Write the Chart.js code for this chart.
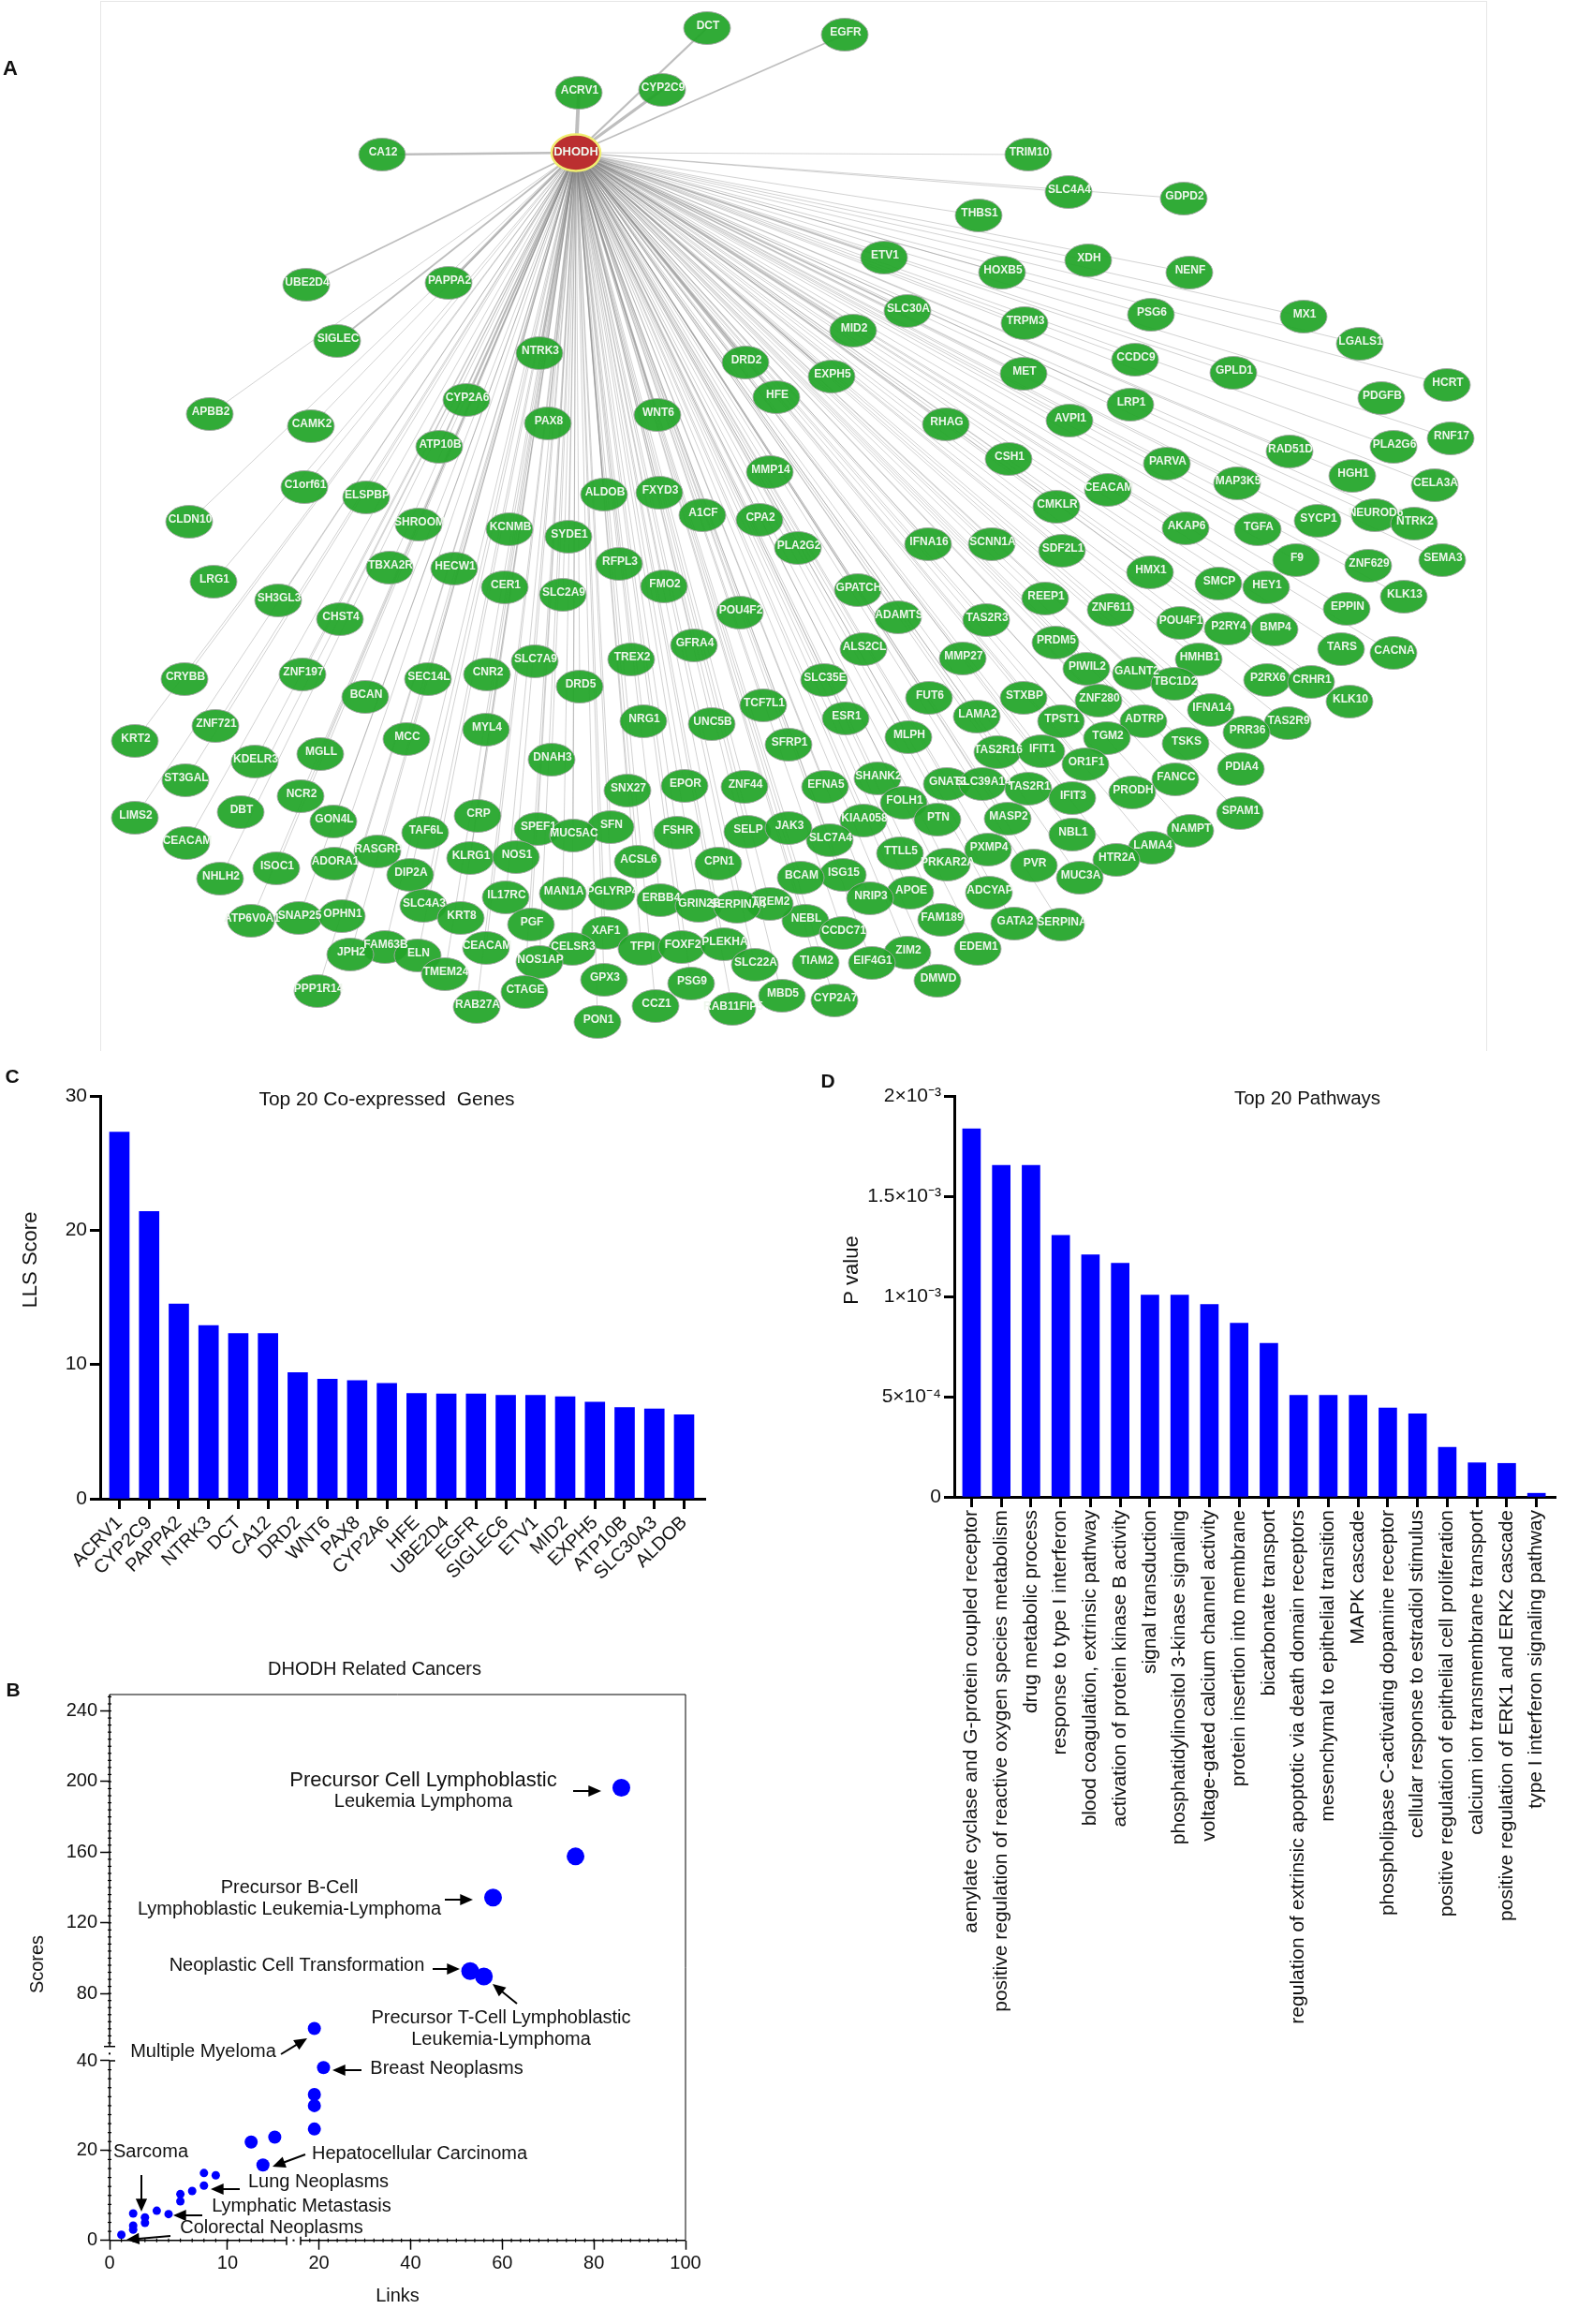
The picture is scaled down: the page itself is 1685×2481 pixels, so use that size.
<!DOCTYPE html>
<html>
<head>
<meta charset="utf-8">
<title>DHODH</title>
<script src="https://cdn.jsdelivr.net/npm/chart.js@4/dist/chart.umd.js"></script>
<style>
body { margin: 0; background: #fff; }
canvas { position: absolute; }
#frame { position: absolute; left: 107px; top: 1px; width: 1479px; height: 1120px; border: 1px solid #e6e6e6; border-bottom: 0; }
</style>
</head>
<body>
<div id="frame"></div>
<canvas id="net"></canvas>
<canvas id="genes"></canvas>
<canvas id="cancers"></canvas>
<canvas id="pathways"></canvas>
<script>
const hubName = 'DHODH';
const hubX = [615];
const hubY = [163];
const netNames = ['DCT','ACRV1','CYP2C9','CA12','UBE2D4','PAPPA2','SIGLEC','NTRK3','DRD2','HFE','CYP2A6','APBB2','CAMK2','PAX8','WNT6','ATP10B','MMP14','C1orf61','ELSPBP','ALDOB','FXYD3','A1CF','CPA2','CLDN10','SHROOM','KCNMB','SYDE1',
  'EGFR','TRIM10','SLC4A4','GDPD2','THBS1','ETV1','HOXB5','XDH','NENF','MX1','PSG6','SLC30A','MID2','TRPM3','LGALS1','CCDC9','GPLD1','MET','EXPH5','HCRT','PDGFB','LRP1','AVPI1','RHAG','RNF17','PLA2G6','RAD51D','PARVA','CSH1','HGH1','CELA3A','MAP3K5','CEACAM','CMKLR','SYCP1','NEUROD6','NTRK2','AKAP6','TGFA','F9','ZNF629','SEMA3','PLA2G2',
  'IFNA16','SCNN1A','SDF2L1','HMX1','SMCP','HEY1','KLK13','EPPIN','GPATCH','REEP1','ZNF611','ADAMTS','TAS2R3','POU4F1','P2RY4','BMP4','TARS','CACNA','ALS2CL','PRDM5','MMP27','HMHB1','PIWIL2','GALNT2','TBC1D2','P2RX6','CRHR1','KLK10','SLC35E','FUT6','STXBP','ZNF280','IFNA14','ESR1','LAMA2','TPST1','ADTRP','TAS2R9','PRR36','TGM2','MLPH','TSKS','TAS2R16','IFIT1','OR1F1','PDIA4','SHANK2','EFNA5','GNAT3','SLC39A14','TAS2R1','PRODH','FANCC','IFIT3','FOLH1','SPAM1','PTN','MASP2','KIAA058','NAMPT','NBL1','SLC7A4','LAMA4','TTLL5','PXMP4','PVR','PRKAR2A','HTR2A','ISG15','MUC3A','BCAM','APOE','ADCYAP','NRIP3','FAM189','NEBL','GATA2','SERPINA','CCDC71','EDEM1','ZIM2','TIAM2','EIF4G1','DMWD','CYP2A7','MBD5',
  'LRG1','TBXA2R','HECW1','CER1','SLC2A9','RFPL3','FMO2','SH3GL3','CHST4','POU4F2','GFRA4','SLC7A9','TREX2','CNR2','ZNF197','SEC14L','CRYBB','DRD5','TCF7L1','BCAN','NRG1','UNC5B','ZNF721','MYL4','MCC','KRT2','SFRP1','MGLL','DNAH3','KDELR3','ST3GAL','SNX27','EPOR','ZNF44','NCR2','CRP','DBT','LIMS2','GON4L','SPEF1','SFN','TAF6L','FSHR','SELP','JAK3','MUC5AC','CEACAM','RASGRP','KLRG1','NOS1','ACSL6','CPN1','ADORA1','ISOC1','DIP2A','NHLH2','IL17RC','MAN1A','PGLYRP4','ERBB4','SLC4A3','GRIN2B','TREM2','SERPINA4','KRT8','ATP6V0A1','SNAP25','OPHN1','PGF','XAF1','CEACAM','FAM63B','JPH2','ELN','CELSR3','TFPI','FOXF2','PLEKHA','NOS1AP','SLC22A','TMEM24','GPX3','PSG9','CTAGE','PPP1R14','RAB27A','CCZ1','RAB11FIP5','PON1'];
const netX = [755,618,707,408,327,479,360,576,796,829,498,224,332,585,702,469,822,325,391,645,704,750,811,202,447,544,607,
  902,1098,1141,1264,1045,944,1070,1162,1270,1392,1229,969,911,1094,1452,1212,1317,1093,888,1545,1475,1207,1142,1010,1549,1488,1377,1246,1077,1444,1532,1321,1183,1128,1407,1468,1510,1266,1343,1384,1461,1540,852,
  991,1059,1134,1228,1301,1352,1499,1438,916,1116,1186,959,1053,1260,1311,1361,1432,1488,922,1127,1028,1280,1160,1213,1254,1353,1400,1441,880,992,1093,1173,1293,903,1043,1133,1221,1375,1331,1182,970,1266,1065,1112,1159,1325,937,881,1011,1049,1098,1209,1255,1145,965,1324,1001,1076,922,1271,1145,886,1230,961,1055,1104,1011,1192,900,1153,855,972,1056,929,1005,860,1083,1133,900,1044,969,871,931,1001,891,835,
  228,416,485,539,601,661,709,297,363,790,741,571,674,520,323,457,197,619,815,390,687,760,230,519,434,144,842,342,589,272,198,670,731,795,321,510,257,144,356,574,652,454,723,798,842,612,199,403,502,551,681,767,357,295,438,235,540,601,653,705,452,746,822,787,492,268,319,365,567,646,519,411,374,446,611,685,728,773,576,806,475,645,738,560,339,509,700,782,638];
const netY = [30,99,96,165,304,302,364,377,387,424,427,442,455,452,443,477,504,520,531,528,526,550,555,557,560,565,573,
  37,165,205,212,230,275,291,278,291,338,336,332,353,345,367,384,398,399,402,411,425,432,449,453,468,477,482,495,490,508,518,516,523,541,556,550,559,564,565,598,604,598,585,
  581,581,588,611,623,627,637,650,630,639,651,659,662,665,671,672,693,697,693,686,703,704,714,719,730,726,728,749,726,745,745,748,758,767,765,770,770,772,782,788,787,794,803,802,816,821,831,840,837,837,842,846,832,852,857,868,875,874,876,887,891,897,905,911,907,924,923,918,934,937,937,953,953,959,982,983,986,987,996,1013,1017,1028,1028,1047,1068,1063,
  621,606,607,627,635,602,626,641,661,654,689,706,704,720,720,725,725,733,753,744,770,773,775,779,789,791,795,805,811,813,833,844,839,840,850,871,867,873,877,885,883,889,889,888,884,892,900,909,916,915,920,922,922,927,934,938,958,954,954,961,967,967,965,968,980,983,980,978,987,996,1012,1011,1019,1020,1013,1013,1011,1008,1027,1030,1040,1046,1050,1059,1058,1075,1074,1077,1091];

const geneLabels = ['ACRV1','CYP2C9','PAPPA2','NTRK3','DCT','CA12','DRD2','WNT6','PAX8','CYP2A6','HFE','UBE2D4','EGFR','SIGLEC6','ETV1','MID2','EXPH5','ATP10B','SLC30A3','ALDOB'];
const geneScores = [27.3,21.4,14.5,12.9,12.3,12.3,9.4,8.9,8.8,8.6,7.85,7.8,7.8,7.7,7.7,7.6,7.2,6.8,6.7,6.25];

const pathwayLabels = ['aenylate cyclase and G-protein coupled receptor','positive regulation of reactive oxygen species metabolism','drug metabolic process','response to type I interferon','blood coagulation, extrinsic pathway','activation of protein kinase B activity','signal transduction','phosphatidylinositol 3-kinase signaling','voltage-gated calcium channel activity','protein insertion into membrane','bicarbonate transport','regulation of extrinsic apoptotic via death domain receptors','mesenchymal to epithelial transition','MAPK cascade','phospholipase C-activating dopamine receptor','cellular response to estradiol stimulus','positive regulation of epithelial cell proliferation','calcium ion transmembrane transport','positive regulation of ERK1 and ERK2 cascade','type I interferon signaling pathway'];
const pathwayValues = [0.001836,0.001654,0.001654,0.001305,0.001207,0.001165,0.001007,0.001007,0.00096,0.000867,0.000766,0.000507,0.000507,0.000507,0.000444,0.000414,0.000247,0.00017,0.000167,0.000018];
const pathwayTicks = [0,0.0005,0.001,0.0015,0.002];
const pathwayTickLabels = ['0','5×10⁻⁴','1×10⁻³','1.5×10⁻³','2×10⁻³'];

const cancerLinks = [1,2,2,2,3,3,4,5,6,6,7,8,8,9,12,14,13,19,19,19,21,19,53,56,58,76,86];
const cancerScores = [1.25,6,3.3,2.4,5.1,3.9,6.6,5.85,10.3,8.7,11,15,12.2,14.5,21.9,23,16.8,24.8,30,32.5,38.5,60.2,92.7,89.6,134.3,157.6,196.5];
const cancerXTicks = [0,10,20,40,60,80,100];
const cancerYTicks = [0,20,40,80,120,160,200,240];

const FONT = '"Liberation Sans", Arial, sans-serif';
const BLUE = '#0000ff';

const place = (id, x, y, w, h) => {
    const c = document.getElementById(id);
    c.width = w; c.height = h;
    c.style.left = x + 'px'; c.style.top = y + 'px';
    return c.getContext('2d');
};

// text and arrows given in page pixels
const notes = {
    id: 'notes',
    afterDraw(chart, args, opts) {
        const ctx = chart.ctx;
        const ox = chart.canvas.offsetLeft, oy = chart.canvas.offsetTop;
        ctx.save();
        ctx.fillStyle = '#111'; ctx.strokeStyle = '#000';
        ctx.textBaseline = 'middle';
        for (const t of opts.texts || []) {
            ctx.save();
            ctx.translate(t.x - ox, t.y - oy);
            if (t.rot) ctx.rotate(t.rot * Math.PI / 180);
            ctx.font = t.font || `20px ${FONT}`;
            ctx.textAlign = t.align || 'center';
            ctx.fillText(t.s, 0, 0);
            ctx.restore();
        }
        for (const a of opts.arrows || []) {
            const x0 = a[0] - ox, y0 = a[1] - oy, x1 = a[2] - ox, y1 = a[3] - oy;
            const ang = Math.atan2(y1 - y0, x1 - x0);
            ctx.lineWidth = 2;
            ctx.beginPath();
            ctx.moveTo(x0, y0);
            ctx.lineTo(x1 - 10 * Math.cos(ang), y1 - 10 * Math.sin(ang));
            ctx.stroke();
            ctx.beginPath();
            ctx.moveTo(x1, y1);
            ctx.lineTo(x1 - 15 * Math.cos(ang - 0.42), y1 - 15 * Math.sin(ang - 0.42));
            ctx.lineTo(x1 - 15 * Math.cos(ang + 0.42), y1 - 15 * Math.sin(ang + 0.42));
            ctx.closePath();
            ctx.fillStyle = '#000';
            ctx.fill();
            ctx.fillStyle = '#111';
        }
        ctx.restore();
    }
};

// ---- A: network
const ellipse = (fill, stroke, lw, rx, ry) => {
    const c = document.createElement('canvas');
    c.width = 60; c.height = 46;
    const g = c.getContext('2d');
    g.beginPath();
    g.ellipse(30, 23, rx, ry, 0, 0, Math.PI * 2);
    g.fillStyle = fill; g.fill();
    g.lineWidth = lw; g.strokeStyle = stroke; g.stroke();
    return c;
};

const nodeLabels = {
    id: 'nodeLabels',
    afterDatasetsDraw(chart) {
        const ctx = chart.ctx, sx = chart.scales.x, sy = chart.scales.y;
        ctx.save();
        ctx.fillStyle = '#eef6ec';
        ctx.textAlign = 'center'; ctx.textBaseline = 'middle';
        ctx.font = `bold 12px ${FONT}`;
        netNames.forEach((n, i) => {
            ctx.fillText(n, sx.getPixelForValue(netX[i]) + 1, sy.getPixelForValue(netY[i]) - 2);
        });
        ctx.font = `bold 13px ${FONT}`;
        ctx.fillText(hubName, sx.getPixelForValue(hubX[0]), sy.getPixelForValue(hubY[0]) - 1);
        ctx.restore();
    }
};

const edgeWidth = (n) => {
    const i = geneLabels.findIndex(g => g.startsWith(n));
    return i < 0 ? 0.7 : 0.9 + geneScores[i] / 9;
};
const edgeSets = netNames.map((n, i) => ({
    type: 'scatter',
    showLine: true,
    order: 3,
    pointRadius: 0,
    borderColor: 'rgba(125,125,125,0.5)',
    borderWidth: edgeWidth(n),
    data: [{x: hubX[0], y: hubY[0]}, {x: netX[i], y: netY[i]}]
}));

place('net', 0, 0, 1685, 1130);
new Chart(document.getElementById('net'), {
    type: 'scatter',
    data: {
        datasets: [
            {
                order: 1,
                pointStyle: ellipse('#bb2f30', '#f0ee70', 2.5, 26, 19.5),
                pointRadius: 25,
                data: [{x: hubX[0], y: hubY[0]}]
            },
            {
                order: 2,
                pointStyle: ellipse('rgba(36,166,42,0.94)', 'rgba(165,165,165,0.9)', 1, 25, 17.5),
                pointRadius: 25,
                data: netNames.map((n, i) => ({x: netX[i], y: netY[i]}))
            },
            ...edgeSets
        ]
    },
    plugins: [nodeLabels, notes],
    options: {
        responsive: false,
        animation: false,
        events: [],
        clip: false,
        layout: { padding: 0, autoPadding: false },
        scales: {
            x: { type: 'linear', display: false, min: 0, max: 1685 },
            y: { type: 'linear', display: false, min: 0, max: 1130, reverse: true }
        },
        plugins: {
            legend: { display: false },
            tooltip: { enabled: false },
            notes: { texts: [{ s: 'A', x: 11, y: 74, font: `bold 22px ${FONT}` }] }
        }
    }
});

// ---- shared bar chart, x is linear so the axis can run past the first and last bar
const barChart = (id, labels, values, cfg) => {
    new Chart(document.getElementById(id), {
        type: 'bar',
        data: {
            datasets: [{
                data: values.map((v, i) => ({x: i, y: v})),
                backgroundColor: BLUE,
                barThickness: cfg.barWidth
            }]
        },
        plugins: [notes],
        options: {
            responsive: false,
            animation: false,
            events: [],
            layout: { padding: { top: cfg.padTop, right: cfg.padRight } },
            scales: {
                x: {
                    type: 'linear',
                    offset: false,
                    min: cfg.xMin,
                    max: cfg.xMax,
                    afterBuildTicks: s => { s.ticks = labels.map((l, i) => ({value: i})); },
                    afterFit: s => { s.height = cfg.xHeight; },
                    grid: { offset: false, drawOnChartArea: false, tickLength: 11, tickWidth: 3, tickColor: '#000' },
                    border: { color: '#000', width: 3 },
                    ticks: {
                        autoSkip: false,
                        minRotation: cfg.rotation,
                        maxRotation: cfg.rotation,
                        padding: 3,
                        color: '#111',
                        font: { family: FONT, size: cfg.xFont },
                        callback: (v) => labels[v]
                    }
                },
                y: {
                    min: 0,
                    max: cfg.yMax,
                    afterBuildTicks: s => { s.ticks = cfg.yTicks.map(v => ({value: v})); },
                    afterFit: s => { s.width = cfg.yWidth; },
                    grid: { drawOnChartArea: false, tickLength: 11, tickWidth: 3, tickColor: '#000' },
                    border: { color: '#000', width: 3 },
                    ticks: {
                        padding: 3,
                        color: '#111',
                        font: { family: FONT, size: 21 },
                        callback: cfg.yLabel
                    }
                }
            },
            plugins: {
                legend: { display: false },
                tooltip: { enabled: false },
                notes: { texts: cfg.texts }
            }
        }
    });
};

// ---- C
place('genes', 0, 1140, 800, 570);
barChart('genes', geneLabels, geneScores, {
    barWidth: 21, padTop: 30, padRight: 47,
    xMin: -0.646, xMax: 19.71, xHeight: 110, yWidth: 107,
    rotation: 45, xFont: 20,
    yMax: 30, yTicks: [0,10,20,30], yLabel: v => v,
    texts: [
        { s: 'C', x: 13, y: 1150, font: `bold 21px ${FONT}` },
        { s: 'Top 20 Co-expressed  Genes', x: 413, y: 1174, font: `21px ${FONT}` },
        { s: 'LLS Score', x: 33, y: 1345, rot: -90, font: `22px ${FONT}` }
    ]
});

// ---- D
place('pathways', 860, 1140, 825, 1060);
barChart('pathways', pathwayLabels, pathwayValues, {
    barWidth: 19, padTop: 30, padRight: 24,
    xMin: -0.58, xMax: 19.64, xHeight: 602, yWidth: 159,
    rotation: 90, xFont: 21,
    yMax: 0.002, yTicks: pathwayTicks, yLabel: v => pathwayTickLabels[pathwayTicks.indexOf(v)],
    texts: [
        { s: 'D', x: 884, y: 1155, font: `bold 21px ${FONT}` },
        { s: 'Top 20 Pathways', x: 1396, y: 1173, font: `20.5px ${FONT}` },
        { s: 'P value', x: 910, y: 1356, rot: -90, font: `22px ${FONT}` }
    ]
});

// ---- B: both axes have a break, so a linear scale with pieces
class BrokenScale extends Chart.LinearScale {
    static id = 'broken';
    getPixelForValue(v) {
        const p = this.options.pieces;
        for (let i = 0; i < p.length; i++) {
            const [v0, v1, f0, f1] = p[i];
            if (v <= v1 || i === p.length - 1) {
                return this.getPixelForDecimal(f0 + (Math.max(v, v0) - v0) / (v1 - v0) * (f1 - f0));
            }
        }
    }
    getValueForPixel(px) {
        const d = this.getDecimalForPixel(px);
        for (const [v0, v1, f0, f1] of this.options.pieces) {
            if (d <= f1) return v0 + (d - f0) / (f1 - f0) * (v1 - v0);
        }
    }
}
Chart.register(BrokenScale);

const brokenAxes = {
    id: 'brokenAxes',
    afterDraw(chart) {
        const ctx = chart.ctx, sx = chart.scales.x, sy = chart.scales.y;
        const a = chart.chartArea;
        const X = v => sx.getPixelForValue(v), Y = v => sy.getPixelForValue(v);
        const line = (x0, y0, x1, y1) => { ctx.beginPath(); ctx.moveTo(x0, y0); ctx.lineTo(x1, y1); ctx.stroke(); };
        ctx.save();
        ctx.strokeStyle = '#000'; ctx.fillStyle = '#000';
        ctx.lineWidth = 1;
        line(a.left, a.top, a.right, a.top);
        line(a.right, a.top, a.right, a.bottom);
        ctx.lineWidth = 1.5;
        line(X(0), a.bottom, X(15), a.bottom);
        line(X(16), a.bottom, X(100), a.bottom);
        line(a.left, Y(0), a.left, Y(40));
        line(a.left, Y(50), a.left, a.top);
        // break marks
        line(X(15), a.bottom - 4, X(15), a.bottom + 5);
        line(X(16), a.bottom - 4, X(16), a.bottom + 5);
        line(a.left - 6, Y(50), a.left + 6, Y(50));
        line(a.left, Y(40), a.left + 6, Y(40));
        ctx.fillRect((X(15) + X(16)) / 2 - 1, a.bottom - 1, 2, 2);
        ctx.fillRect(a.left - 1, (Y(40) + Y(50)) / 2 - 1, 2, 2);
        // minor ticks
        ctx.lineWidth = 1.2;
        for (let v = 1; v < 15; v++) line(X(v), a.bottom - 2, X(v), a.bottom + 2);
        for (let v = 18; v < 100; v += 2) line(X(v), a.bottom - 2, X(v), a.bottom + 2);
        for (let v = 2; v < 40; v += 2) line(a.left - 2, Y(v), a.left + 2, Y(v));
        for (let v = 52; v < 249; v += 4) line(a.left - 2, Y(v), a.left + 2, Y(v));
        ctx.restore();
    }
};

place('cancers', 0, 1760, 800, 721);
new Chart(document.getElementById('cancers'), {
    type: 'scatter',
    data: {
        datasets: [{
            data: cancerLinks.map((x, i) => ({x: x, y: cancerScores[i]})),
            backgroundColor: BLUE,
            borderWidth: 0,
            pointRadius: c => c.raw.x < 10 ? 4.5 : (c.raw.x < 50 ? 7 : 9.5)
        }]
    },
    plugins: [brokenAxes, notes],
    options: {
        responsive: false,
        animation: false,
        events: [],
        layout: { padding: { top: 49, right: 68 } },
        scales: {
            x: {
                type: 'broken',
                pieces: [[0, 15, 0, 0.3073], [16, 100, 0.3317, 1]],
                min: 0,
                max: 100,
                afterBuildTicks: s => { s.ticks = cancerXTicks.map(v => ({value: v})); },
                afterFit: s => { s.height = 89.3; },
                grid: { drawOnChartArea: false, tickLength: 10, tickWidth: 1.5, tickColor: '#000' },
                border: { display: false },
                title: { display: true, text: 'Links', color: '#111', font: { family: FONT, size: 20 }, padding: { bottom: 18 } },
                ticks: { padding: 3, color: '#111', maxRotation: 0, font: { family: FONT, size: 20 }, callback: v => v }
            },
            y: {
                type: 'broken',
                pieces: [[0, 40, 0, 0.329], [50, 249.3, 0.3552, 1]],
                min: 0,
                max: 249.3,
                afterBuildTicks: s => { s.ticks = cancerYTicks.map(v => ({value: v})); },
                afterFit: s => { s.width = 117; },
                grid: { drawOnChartArea: false, tickLength: 10, tickWidth: 1.5, tickColor: '#000' },
                border: { display: false },
                ticks: { padding: 3, color: '#111', font: { family: FONT, size: 20 }, callback: v => v }
            }
        },
        plugins: {
            legend: { display: false },
            tooltip: { enabled: false },
            notes: {
                texts: [
                    { s: 'B', x: 14, y: 1805, font: `bold 21px ${FONT}` },
                    { s: 'DHODH Related Cancers', x: 400, y: 1782 },
                    { s: 'Scores', x: 40, y: 2097, rot: -90, font: `20px ${FONT}` },
                    { s: 'Precursor Cell Lymphoblastic', x: 452, y: 1901, font: `22px ${FONT}` },
                    { s: 'Leukemia Lymphoma', x: 452, y: 1923 },
                    { s: 'Precursor B-Cell', x: 309, y: 2015 },
                    { s: 'Lymphoblastic Leukemia-Lymphoma', x: 309, y: 2038 },
                    { s: 'Neoplastic Cell Transformation', x: 317, y: 2098 },
                    { s: 'Precursor T-Cell Lymphoblastic', x: 535, y: 2154 },
                    { s: 'Leukemia-Lymphoma', x: 535, y: 2177 },
                    { s: 'Multiple Myeloma', x: 217, y: 2190 },
                    { s: 'Breast Neoplasms', x: 477, y: 2208 },
                    { s: 'Hepatocellular Carcinoma', x: 448, y: 2299 },
                    { s: 'Sarcoma', x: 161, y: 2297 },
                    { s: 'Lung Neoplasms', x: 340, y: 2329 },
                    { s: 'Lymphatic Metastasis', x: 322, y: 2355 },
                    { s: 'Colorectal Neoplasms', x: 290, y: 2378 }
                ],
                arrows: [
                    [612,1912,642,1912],
                    [475,2028,505,2028],
                    [462,2102,491,2102],
                    [552,2139,526,2118],
                    [300,2193,328,2176],
                    [386,2210,355,2210],
                    [326,2300,291,2313],
                    [151,2322,151,2361],
                    [256,2337,225,2337],
                    [216,2365,185,2365],
                    [182,2387,135,2391]
                ]
            }
        }
    }
});
</script>
</body>
</html>
